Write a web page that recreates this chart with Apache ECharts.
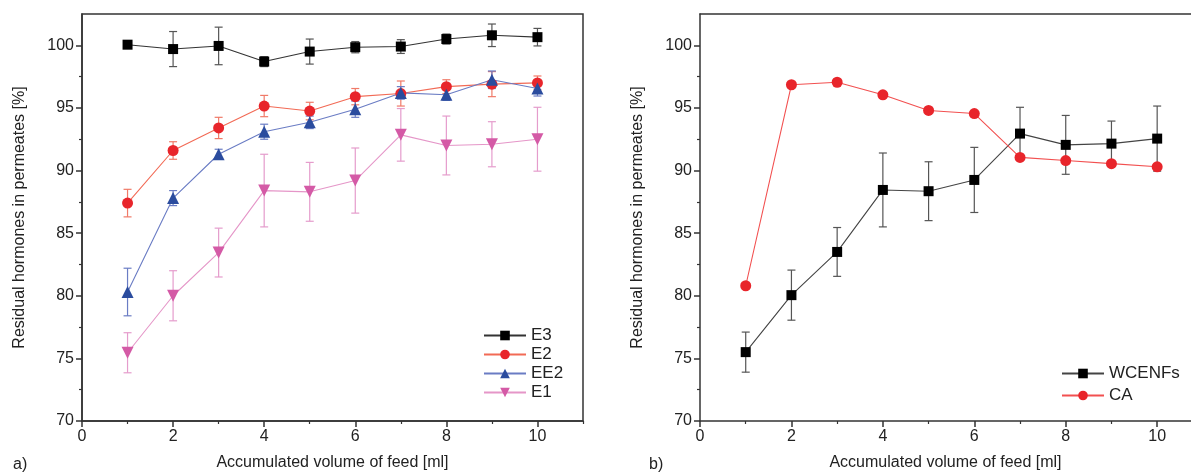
<!DOCTYPE html>
<html lang="en">

<head>
  <meta charset="UTF-8">
  <title>Residual hormones</title>
  <script src="https://cdn.jsdelivr.net/npm/echarts@6/dist/echarts.min.js"></script>
</head>

<body style="margin:0">
  <div id="main" style="width: 1191px;height: 476px;"></div>
  <script>
    // accumulated feed volume [ml]
    const volume = [1, 2, 3, 4, 5, 6, 7, 8, 9, 10]

    // panel a)
    const e3 = [100.05, 99.7, 99.95, 98.7, 99.5, 99.85, 99.9, 100.5, 100.8, 100.65]
    const e3Err = [0.2, 1.4, 1.5, 0.4, 1.0, 0.45, 0.55, 0.4, 0.9, 0.7]
    const e2 = [87.4, 91.6, 93.4, 95.15, 94.75, 95.9, 96.15, 96.7, 96.9, 97.0]
    const e2Err = [1.1, 0.7, 0.85, 0.85, 0.7, 0.65, 1.0, 0.55, 1.0, 0.55]
    const ee2 = [80.3, 87.8, 91.3, 93.1, 93.85, 94.9, 96.2, 96.05, 97.25, 96.55]
    const ee2Err = [1.9, 0.6, 0.4, 0.6, 0.5, 0.65, 0.5, 0.45, 0.7, 0.6]
    const e1 = [75.45, 80.0, 83.45, 88.4, 88.3, 89.2, 92.85, 92.0, 92.1, 92.5]
    const e1Err = [1.6, 2.0, 1.95, 2.9, 2.35, 2.6, 2.1, 2.35, 1.8, 2.55]

    // panel b)
    const wcenfs = [75.5, 80.05, 83.5, 88.45, 88.35, 89.25, 92.95, 92.05, 92.15, 92.55]
    const wcenfsErr = [1.6, 2.0, 1.95, 2.95, 2.35, 2.6, 2.1, 2.35, 1.8, 2.6]
    const ca = [80.8, 96.85, 97.05, 96.05, 94.8, 94.55, 91.05, 90.8, 90.55, 90.3]

    // ticks
    const xTicks = [0, 2, 4, 6, 8, 10]
    const xMinor = [1, 3, 5, 7, 9, 11]
    const yTicks = [70, 75, 80, 85, 90, 95, 100]
    const yMinor = [72.5, 77.5, 82.5, 87.5, 92.5, 97.5]

    const font = 'Liberation Sans, Arial, sans-serif'
    const ink = '#333'
    const myChart = echarts.init(document.getElementById('main'))

    const pts = ys => volume.map((x, i) => [x, ys[i]])
    const errPts = (ys, es) => volume.map((x, i) => [x, ys[i], es[i]])

    // error bars drawn through the axis scale
    function errBar(color) {
      return function (params, api) {
        const x = api.value(0), y = api.value(1), e = api.value(2)
        const t = api.coord([x, y + e])
        const b = api.coord([x, y - e])
        const w = 4
        const st = { stroke: color, lineWidth: 1.2 }
        return {
          type: 'group',
          children: [
            { type: 'line', shape: { x1: t[0], y1: t[1], x2: b[0], y2: b[1] }, style: st },
            { type: 'line', shape: { x1: t[0] - w, y1: t[1], x2: t[0] + w, y2: t[1] }, style: st },
            { type: 'line', shape: { x1: b[0] - w, y1: b[1], x2: b[0] + w, y2: b[1] }, style: st }
          ]
        }
      }
    }

    const labelStyle = { fontFamily: font, fontSize: 16, color: '#222' }

    function xAx(gi, max) {
      return {
        gridIndex: gi, type: 'value', min: 0, max,
        name: 'Accumulated volume of feed [ml]', nameLocation: 'middle', nameGap: 34,
        nameTextStyle: labelStyle,
        axisLine: { lineStyle: { color: ink, width: 1.5 } },
        axisTick: { customValues: xTicks, length: 6, lineStyle: { color: ink, width: 1.5 } },
        axisLabel: Object.assign({ customValues: xTicks, margin: 8 }, labelStyle),
        splitLine: { show: false }
      }
    }
    function xMinorAx(gi, max) {
      return {
        gridIndex: gi, type: 'value', min: 0, max, position: 'bottom',
        axisLine: { show: false },
        axisTick: { customValues: xMinor.filter(v => v <= max), length: 3, lineStyle: { color: ink, width: 1.2 } },
        axisLabel: { show: false },
        splitLine: { show: false }
      }
    }
    function yAx(gi) {
      return {
        gridIndex: gi, type: 'value', min: 70, max: 102.5, position: 'left',
        name: 'Residual hormones in permeates [%]', nameLocation: 'middle', nameGap: 54,
        nameTextStyle: labelStyle,
        axisLine: { show: true, lineStyle: { color: ink, width: 1.5 } },
        axisTick: { show: true, customValues: yTicks, length: 6, lineStyle: { color: ink, width: 1.5 } },
        axisLabel: Object.assign({ customValues: yTicks, margin: 8 }, labelStyle),
        splitLine: { show: false }
      }
    }
    function yMinorAx(gi) {
      return {
        gridIndex: gi, type: 'value', min: 70, max: 102.5, position: 'left',
        axisLine: { show: false },
        axisTick: { show: true, customValues: yMinor, length: 3, lineStyle: { color: ink, width: 1.2 } },
        axisLabel: { show: false },
        splitLine: { show: false }
      }
    }

    function line(name, gi, ys, color, lineColor, symbol, size, rotate) {
      return {
        name, type: 'line', xAxisIndex: gi, yAxisIndex: gi, data: pts(ys),
        symbol, symbolSize: size, symbolRotate: rotate || 0,
        itemStyle: { color, opacity: 1 },
        lineStyle: { color: lineColor, width: 1.1 },
        z: 3
      }
    }
    function err(gi, ys, es, color) {
      return {
        type: 'custom', xAxisIndex: gi, yAxisIndex: gi, data: errPts(ys, es),
        encode: { x: 0, y: 1 }, renderItem: errBar(color), silent: true, z: 2
      }
    }

    const rightMax = 10.74 // panel b) is cut at the page edge

    const option = {
      animation: false,
      title: [
        { text: 'a)', left: 8, top: 452, textStyle: { fontFamily: font, fontSize: 16, fontWeight: 'normal', color: '#222' } },
        { text: 'b)', left: 644, top: 452, textStyle: { fontFamily: font, fontSize: 16, fontWeight: 'normal', color: '#222' } }
      ],
      grid: [
        { left: 82, top: 14, width: 501, height: 407, show: true, borderColor: ink, borderWidth: 1.5 },
        { left: 700, top: 14, width: 491, height: 407 }
      ],
      xAxis: [
        xAx(0, 11), xAx(1, rightMax),
        xMinorAx(0, 11), xMinorAx(1, rightMax),
        // top frame line of panel b)
        {
          gridIndex: 1, type: 'value', min: 0, max: rightMax, position: 'top',
          axisLine: { lineStyle: { color: ink, width: 1.5 } },
          axisTick: { show: false }, axisLabel: { show: false }, splitLine: { show: false }
        }
      ],
      yAxis: [yAx(0), yAx(1), yMinorAx(0), yMinorAx(1)],
      legend: [
        {
          data: ['E3', 'E2', 'EE2', 'E1'], orient: 'vertical', left: 478, top: 322,
          itemWidth: 42, itemHeight: 12, itemGap: 2,
          textStyle: { fontFamily: font, fontSize: 17, color: '#222' }
        },
        {
          data: ['WCENFs', 'CA'], orient: 'vertical', left: 1056, top: 360,
          itemWidth: 42, itemHeight: 12, itemGap: 5,
          textStyle: { fontFamily: font, fontSize: 17, color: '#222' }
        }
      ],
      series: [
        err(0, e3, e3Err, '#555555'),
        err(0, e2, e2Err, '#f07a68'),
        err(0, ee2, ee2Err, '#6a7cc4'),
        err(0, e1, e1Err, '#e59ccc'),
        line('E3', 0, e3, '#000000', '#333333', 'rect', 10),
        line('E2', 0, e2, '#e8252b', '#f26a55', 'circle', 11),
        line('EE2', 0, ee2, '#2b4c9e', '#6a7cc4', 'triangle', 12),
        line('E1', 0, e1, '#d45aa6', '#e596c8', 'triangle', 12, 180),
        err(1, wcenfs, wcenfsErr, '#555555'),
        line('WCENFs', 1, wcenfs, '#000000', '#444444', 'rect', 10),
        line('CA', 1, ca, '#e8252b', '#f25050', 'circle', 11)
      ]
    }

    myChart.setOption(option)
  </script>
</body>

</html>
